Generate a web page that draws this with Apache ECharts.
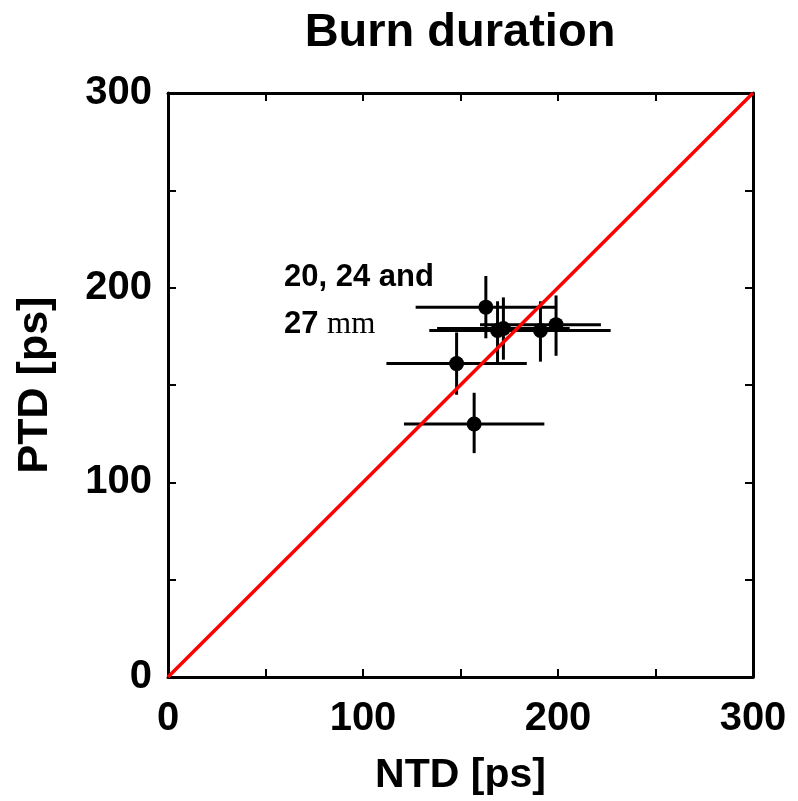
<!DOCTYPE html>
<html><head><meta charset="utf-8">
<script src="https://cdn.jsdelivr.net/npm/echarts@6/dist/echarts.min.js"></script>
<style>html,body{margin:0;padding:0;background:#fff;overflow:hidden}#c{width:798px;height:801px}</style>
</head><body><div id="c"></div>
<script>
const ntd     = [163, 169, 172, 191, 199, 148, 157];
const ptd     = [190, 178, 179, 178, 181, 161, 130];
const ntdLow  = [127, 134, 138, 155, 160, 112, 121];
const ntdHigh = [199, 206, 206, 227, 222, 184, 193];
const ptdLow  = [174, 161, 163, 162, 165, 145, 115];
const ptdHigh = [206, 193, 195, 193, 196, 177, 146];
const diagonal = [[0, 0], [300, 300]];
const axisMin = 0, axisMax = 300, tickStep = 50, labelStep = 100;

const FONT = 'Liberation Sans, Arial, sans-serif';
const chart = echarts.init(document.getElementById('c'), null, {renderer: 'canvas', width: 798, height: 801});

const errData = ntd.map((x, i) => [x, ptd[i], ntdLow[i], ntdHigh[i], ptdLow[i], ptdHigh[i]]);
const ptsData = ntd.map((x, i) => [x, ptd[i]]);

function baseAxis(pos, showLabel, name) {
  return {
    type: 'value', position: pos, min: axisMin, max: axisMax, interval: tickStep,
    axisLine: {show: true, onZero: false, lineStyle: {color: '#000', width: 3}},
    axisTick: {show: true, inside: true, length: 8, lineStyle: {color: '#000', width: 2}},
    splitLine: {show: false},
    axisLabel: {show: showLabel, color: '#000', fontFamily: FONT, fontWeight: 'bold', fontSize: 40,
      margin: pos === 'bottom' ? 22 : 16,
      formatter: v => (v % labelStep === 0 ? String(v) : '')},
    name: name || '', nameLocation: 'middle',
    nameTextStyle: {color: '#000', fontFamily: FONT, fontWeight: 'bold', fontSize: 41},
  };
}

const xa = baseAxis('bottom', true, 'NTD [ps]'); xa.nameGap = 78;
const xt = baseAxis('top', false);
const ya = baseAxis('left', true, 'PTD [ps]'); ya.nameGap = 111;
ya.nameTextStyle.fontSize = 43;
const yr = baseAxis('right', false);

chart.setOption({
  animation: false,
  backgroundColor: '#fff',
  title: {text: 'Burn duration', left: 455, top: 5, textAlign: 'center',
    textStyle: {color: '#000', fontFamily: FONT, fontWeight: 'bold', fontSize: 47}},
  grid: {left: 168, top: 93, width: 585, height: 585, containLabel: false},
  xAxis: [xa, xt],
  yAxis: [ya, yr],
  graphic: [{
    type: 'text', left: 284, top: 262, z: 10,
    style: {
      text: '{b|20, 24 and}\n{b|27 }{m|mm}',
      rich: {
        b: {fontFamily: FONT, fontWeight: 'bold', fontSize: 31, fill: '#000', lineHeight: 47},
        m: {fontFamily: 'Liberation Serif, DejaVu Serif, serif', fontWeight: 'normal', fontSize: 31, fill: '#000', lineHeight: 47}
      }
    }
  }],
  series: [
    {
      type: 'line', data: diagonal, xAxisIndex: 0, yAxisIndex: 0,
      symbol: 'none', lineStyle: {color: '#ff0000', width: 3.5}, z: 5, silent: true
    },
    {
      type: 'custom', data: errData, xAxisIndex: 0, yAxisIndex: 0, z: 3,
      renderItem: function (params, api) {
        const y = api.value(1), x = api.value(0);
        const a = api.coord([api.value(2), y]);
        const b = api.coord([api.value(3), y]);
        const c = api.coord([x, api.value(4)]);
        const d = api.coord([x, api.value(5)]);
        return {type: 'group', children: [
          {type: 'line', shape: {x1: a[0], y1: a[1], x2: b[0], y2: b[1]}, style: {stroke: '#000', lineWidth: 3}},
          {type: 'line', shape: {x1: c[0], y1: c[1], x2: d[0], y2: d[1]}, style: {stroke: '#000', lineWidth: 3}}
        ]};
      }
    },
    {
      type: 'scatter', data: ptsData, xAxisIndex: 0, yAxisIndex: 0,
      symbol: 'circle', symbolSize: 15, itemStyle: {color: '#000', opacity: 1}, z: 4
    }
  ]
});
</script>
</body></html>
